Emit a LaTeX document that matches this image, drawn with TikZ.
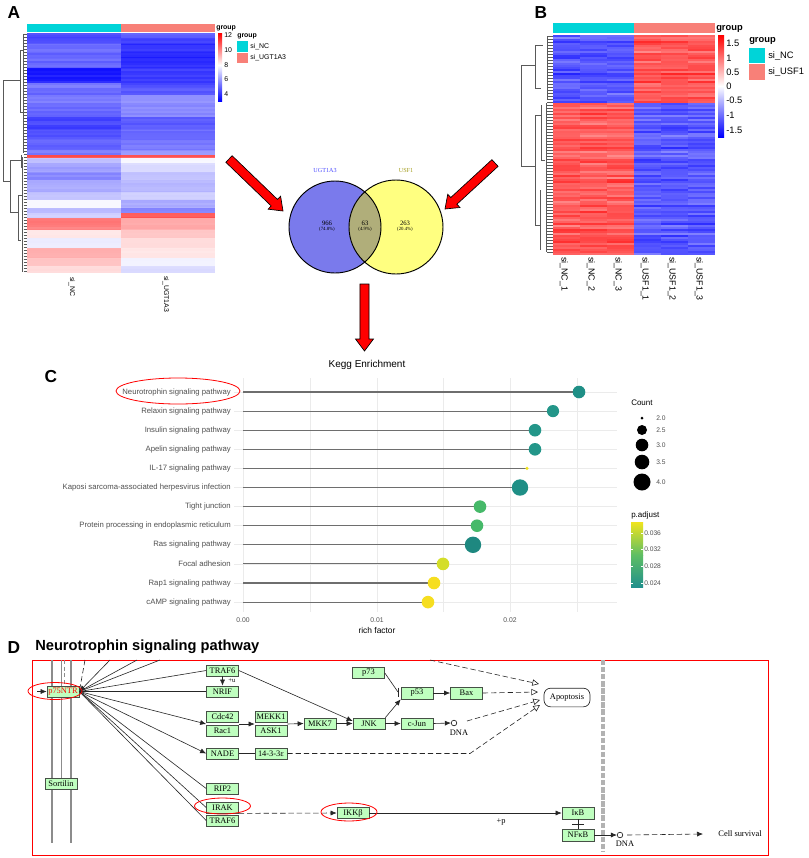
\documentclass[tikz,border=0pt]{standalone}
\usepackage{fontspec}
\setmainfont{Liberation Serif}
\setsansfont{Liberation Sans}
\usetikzlibrary{calc,arrows.meta,shapes.geometric}
\definecolor{hcyan}{RGB}{0,212,216}
\definecolor{hsalmon}{RGB}{248,128,120}
\definecolor{vpurple}{RGB}{122,122,236}
\definecolor{vyellow}{RGB}{255,255,128}
\definecolor{volive}{RGB}{176,174,122}
\definecolor{keggfill}{RGB}{191,255,191}
\definecolor{keggdraw}{RGB}{70,80,70}
\definecolor{dteal}{RGB}{31,143,134}
\definecolor{dteal2}{RGB}{35,150,137}
\definecolor{dteal3}{RGB}{30,136,128}
\definecolor{dyel}{RGB}{240,228,30}
\definecolor{dgreen}{RGB}{70,185,105}
\definecolor{dlime}{RGB}{212,222,40}
\definecolor{dyel2}{RGB}{246,222,32}
\definecolor{vtop}{RGB}{240,228,30}
\definecolor{vmid}{RGB}{94,190,100}
\definecolor{vbot}{RGB}{33,144,140}
\definecolor{labgray}{RGB}{80,80,80}
\newcommand{\myfs}[1]{\fontsize{#1}{#1}\selectfont}
\newcommand{\bigarrow}[2]{%
  \path ($(#2)!9pt!(#1)$) coordinate (hh);
  \draw[fill=red, line width=0.5pt, line join=miter]
    ($(#1)!3.4pt!90:(#2)$) -- ($(hh)!3.4pt!90:(#2)$) -- ($(hh)!6.75pt!90:(#2)$) -- (#2)
    -- ($(hh)!6.75pt!-90:(#2)$) -- ($(hh)!3.4pt!-90:(#2)$) -- ($(#1)!3.4pt!-90:(#2)$) -- cycle;}
\tikzset{
  panlab/.style={font=\sffamily\bfseries\myfs{13}},
  dend/.style={draw=black!65, line width=0.35pt},
  hlab/.style={font=\sffamily\myfs{5.2}},
  blab/.style={font=\sffamily\myfs{7}},
  clab/.style={font=\sffamily\myfs{5.8}, text=labgray, anchor=east, inner sep=0pt},
  grid/.style={draw=black!8, line width=0.5pt},
  stem/.style={draw=black!57, line width=0.8pt},
  kbox/.style={draw=keggdraw, fill=keggfill, line width=0.5pt, minimum width=24pt, minimum height=8.3pt, inner sep=0pt, font=\myfs{6.3}},
  kline/.style={draw=black!85, line width=0.45pt},
  karr/.style={kline, -{Latex[length=4.5pt,width=3.8pt]}},
  kdash/.style={kline, dash pattern=on 4pt off 2.2pt},
  kopen/.style={kdash, -{Triangle[open,length=5pt,width=4.8pt]}},
  redell/.style={draw=red, line width=0.6pt},
  ktext/.style={font=\myfs{6.3}, inner sep=0pt}
}
\begin{document}
\begin{tikzpicture}[x=0.75pt,y=-0.75pt]
\useasboundingbox (0,0) rectangle (809,858);
\fill[white] (0,0) rectangle (809,858);

% ================= Panel A =================
\node[panlab] (labA) at (14,13) {A};
\fill[hcyan] (27,24) rectangle (121,32);
\fill[hsalmon] (121,24) rectangle (215,32);
\foreach \ya/\yb/\ca/\cb in {33/38/blue!75/blue!70, 38/44/blue!72/blue!80, 44/52/blue!62/blue!88,
  52/58/blue!66/blue!92, 58/68/blue!64/blue!85, 68/83/blue!95/blue!80, 83/88/blue!55/blue!75,
  88/95/blue!65/blue!70, 95/103/blue!55/blue!45, 103/117/blue!62/blue!50, 117/130/blue!78/blue!68,
  130/140/blue!72/blue!62, 140/150/blue!68/blue!55, 150/155/blue!55/blue!45, 155/158/red!75/red!70,
  158/163/blue!25/blue!3, 163/172/blue!40/blue!15, 172/180/blue!50/blue!25, 180/192/blue!35/blue!30,
  192/200/blue!25/blue!20, 200/208/blue!3/blue!35, 208/213/blue!30/blue!55, 213/218/blue!20/red!70,
  218/230/red!55/red!35, 230/238/red!10/red!25, 238/248/blue!8/red!15, 248/258/red!35/red!10,
  258/266/red!25/blue!5, 266/273/red!15/blue!15}{
  \fill[\ca] (27,\ya) rectangle (121,\yb);
  \fill[\cb] (121,\ya) rectangle (215,\yb);
}
\pgfmathsetseed{11}
\foreach \y in {33,35,...,271}{
  \pgfmathsetmacro\oa{0.16*rnd}
  \pgfmathsetmacro\ob{0.16*rnd}
  \fill[white,opacity=\oa] (27,\y) rectangle (121,\y+2);
  \fill[white,opacity=\ob] (121,\y) rectangle (215,\y+2);
}
% dendrogram A
\draw[dend] (3,80) -- (3,181) (3,80) -- (20,80) (3,181) -- (10,181)
  (20,50) -- (20,112) (20,50) -- (23,50) (20,112) -- (23,112)
  (10,160) -- (10,212) (10,160) -- (21,160) (10,212) -- (18,212)
  (21,155) -- (21,168) (18,195) -- (18,240) (18,195) -- (22,195) (18,240) -- (21,240);
\foreach \y in {34,37,...,272}{ \draw[dend] (23.5,\y) -- (27,\y); }
\draw[dend] (23.5,34) -- (23.5,153) (22,157) -- (22,272);
% colorbar A
\shade[top color=red, bottom color=white] (218,33) rectangle (222,65);
\shade[top color=white, bottom color=blue] (218,65) rectangle (222,101);
\node[font=\sffamily\bfseries\myfs{5.2}, anchor=west, inner sep=0] (ga) at (216,28.5) {group};
\foreach \v/\yy in {12/35,10/50,8/65,6/79,4/94}{
  \node[hlab, anchor=west, inner sep=0] at (224,\yy) {\v};
}
\node[font=\sffamily\bfseries\myfs{5.2}, anchor=west, inner sep=0] (gb) at (237,36) {group};
\fill[hcyan] (237,41) rectangle (248,52);
\fill[hsalmon] (237,53) rectangle (248,63);
\node[hlab, anchor=west, inner sep=0] at (250,46.5) {si\_NC};
\node[hlab, anchor=west, inner sep=0] at (250,58) {si\_UGT1A3};
\node[hlab, rotate=-90, anchor=west, inner sep=0] at (72,277) {si\_NC};
\node[hlab, rotate=-90, anchor=west, inner sep=0] at (166,276) {si\_UGT1A3};

% ================= Panel B =================
\node[panlab] (labB) at (541,13) {B};
\fill[hcyan] (553,23) rectangle (634,33);
\fill[hsalmon] (634,23) rectangle (715,33);
\pgfmathsetseed{5}
\foreach \r in {0,...,33}{
  \pgfmathsetmacro\base{rnd}
  \foreach \c in {0,...,5}{
    \pgfmathsetmacro\v{int(45+42*(0.55*\base+0.45*rnd))}
    \ifnum\c<3 \def\hc{blue}\else\def\hc{red}\fi
    \fill[\hc!\v] (553+27*\c,35+2*\r) rectangle (580+27*\c,37+2*\r);
  }
}
\foreach \r in {0,...,75}{
  \pgfmathsetmacro\base{rnd}
  \foreach \c in {0,...,5}{
    \pgfmathsetmacro\v{int(45+40*(0.55*\base+0.45*rnd))}
    \ifnum\c<3 \def\hc{red}\else\def\hc{blue}\fi
    \fill[\hc!\v] (553+27*\c,103+2*\r) rectangle (580+27*\c,105+2*\r);
  }
}
% dendrogram B
\draw[dend] (521,65) -- (521,166) (521,65) -- (535,65) (521,166) -- (535,166)
  (535,45) -- (535,88) (535,45) -- (543,45) (535,88) -- (541,88)
  (535,115) -- (535,225) (535,115) -- (541,115) (535,225) -- (540,225)
  (541,105) -- (541,160) (540,190) -- (540,250) (541,160) -- (545,160);
\foreach \y in {36,39,...,252}{ \draw[dend] (547,\y) -- (553,\y); }
\draw[dend] (547,36) -- (547,100) (546,103) -- (546,252);
% colorbar B
\shade[top color=red, bottom color=white] (718,35) rectangle (724,86);
\shade[top color=white, bottom color=blue] (718,86) rectangle (724,137);
\node[font=\sffamily\bfseries\myfs{7}, anchor=west, inner sep=0] (gc) at (716,29) {group};
\foreach \v/\yy in {1.5/43,1/58,0.5/72,0/86,-0.5/100,-1/115,-1.5/130}{
  \node[blab, anchor=west, inner sep=0] at (726,\yy) {\v};
}
\node[font=\sffamily\bfseries\myfs{7}, anchor=west, inner sep=0] (gd) at (749,41) {group};
\fill[hcyan] (749,48) rectangle (765,63);
\fill[hsalmon] (749,64) rectangle (765,80);
\node[blab, anchor=west, inner sep=0] at (768,56) {si\_NC};
\node[blab, anchor=west, inner sep=0] at (768,72) {si\_USF1};
\foreach \x/\t in {564/si\_NC\_1,591/si\_NC\_2,618/si\_NC\_3,645/si\_USF1\_1,672/si\_USF1\_2,699/si\_USF1\_3}{
  \node[font=\sffamily\myfs{6.6}, rotate=-90, anchor=west, inner sep=0] at (\x,257) {\t};
}

% ================= Venn =================
\fill[vpurple] (335,227) circle[radius=46];
\fill[vyellow] (396,227) circle[radius=47];
\begin{scope}
  \clip (335,227) circle[radius=46];
  \fill[volive] (396,227) circle[radius=47];
\end{scope}
\draw[line width=0.7pt] (335,227) circle[radius=46];
\draw[line width=0.7pt] (396,227) circle[radius=47];
\node[font=\myfs{4.6}, text=blue!70!white, inner sep=0] (vl) at (325,170) {UGT1A3};
\node[font=\myfs{4.6}, text=olive!80!white, inner sep=0] (vr) at (406,170) {USF1};
\node[font=\myfs{5}, inner sep=0] (n1) at (327,223) {966};
\node[font=\myfs{3.6}, inner sep=0] (p1) at (327,229.5) {(74.8\%)};
\node[font=\myfs{5}, inner sep=0] (n2) at (365,223) {63};
\node[font=\myfs{3.6}, inner sep=0] (p2) at (365,229.5) {(4.9\%)};
\node[font=\myfs{5}, inner sep=0] (n3) at (405,223) {263};
\node[font=\myfs{3.6}, inner sep=0] (p3) at (405,229.5) {(20.4\%)};

% big red arrows
\coordinate (la1) at (229,159); \coordinate (la2) at (283,211);
\coordinate (ra1) at (495,163); \coordinate (ra2) at (445,209);
\coordinate (da1) at (364.5,284); \coordinate (da2) at (364.5,351);
\bigarrow{la1}{la2}
\bigarrow{ra1}{ra2}
\bigarrow{da1}{da2}

% ================= Panel C =================
\node[font=\sffamily\myfs{7.5}, inner sep=0] (kegg) at (367,365) {Kegg Enrichment};
\node[panlab] (labC) at (51,377) {C};
\foreach \x in {243,310,377,443,510,577}{ \draw[grid] (\x,378) -- (\x,612); }
\foreach \i in {0,...,11}{
  \pgfmathsetmacro\yy{392+19.1*\i}
  \draw[grid] (234,\yy) -- (617,\yy);
}
\foreach \i/\lab/\xe/\rr/\cc in {
 0/Neurotrophin signaling pathway/579/6.3/dteal,
 1/Relaxin signaling pathway/553/6.1/dteal2,
 2/Insulin signaling pathway/535/6.3/dteal2,
 3/Apelin signaling pathway/535/6.3/dteal2,
 4/IL-17 signaling pathway/527/1.7/dyel,
 5/Kaposi sarcoma-associated herpesvirus infection/520/8.2/dteal,
 6/Tight junction/480/6.3/dgreen,
 7/Protein processing in endoplasmic reticulum/477/6.3/dgreen,
 8/Ras signaling pathway/473/8.2/dteal3,
 9/Focal adhesion/443/6.3/dlime,
 10/Rap1 signaling pathway/434/6.3/dyel2,
 11/cAMP signaling pathway/428/6.3/dyel2}{
  \pgfmathsetmacro\yy{392+19.1*\i}
  \draw[stem] (243,\yy) -- (\xe,\yy);
  \fill[\cc] (\xe,\yy) circle[radius=\rr];
  \node[clab] at (231,\yy) {\lab};
}
\draw[redell] (178,391) ellipse[x radius=62, y radius=13];
\foreach \x/\t in {243/0.00,377/0.01,510/0.02}{
  \node[font=\sffamily\myfs{5.1}, text=labgray, inner sep=0] at (\x,620) {\t};
}
\node[font=\sffamily\myfs{6.3}, inner sep=0] (rf) at (377,630) {rich factor};
% legends C
\node[font=\sffamily\myfs{6}, anchor=west, inner sep=0] (cnt) at (631,403) {Count};
\foreach \yy/\rr/\t in {418/1.5/2.0,430/5/2.5,445/6.3/3.0,462/7.3/3.5,482/8.5/4.0}{
  \fill[black] (642,\yy) circle[radius=\rr];
  \node[font=\sffamily\myfs{5}, text=labgray, anchor=west, inner sep=0] at (656,\yy) {\t};
}
\node[font=\sffamily\myfs{6}, anchor=west, inner sep=0] (padj) at (631,515) {p.adjust};
\shade[top color=vtop, bottom color=vmid] (631,522) rectangle (643,555);
\shade[top color=vmid, bottom color=vbot] (631,555) rectangle (643,587);
\foreach \yy/\t in {533/0.036,549/0.032,566/0.028,583/0.024}{
  \draw[white, line width=0.4pt] (631,\yy) -- (633,\yy) (641,\yy) -- (643,\yy);
  \node[font=\sffamily\myfs{5}, text=labgray, anchor=west, inner sep=0] at (644,\yy) {\t};
}

% ================= Panel D =================
\node[panlab] (labD) at (14,648) {D};
\node[font=\sffamily\bfseries\myfs{11}, anchor=west, inner sep=0] (dtitle) at (35,647) {Neurotrophin signaling pathway};
\draw[red, line width=0.75pt] (32,660) rectangle (768,855);
% membranes
\draw[black!45, line width=2pt] (52,660) -- (52,843);
\draw[black!45, line width=2pt] (71,660) -- (71,843);
\draw[black!45, line width=0.6pt] (61,660) -- (61,778);
\draw[black!45, line width=0.6pt, dash pattern=on 3pt off 2pt] (64,660) -- (64,688);
\draw[black!30, line width=2.6pt, dash pattern=on 4pt off 1.3pt] (603,660) -- (603,852);

% nodes
\node[kbox, text=red] (p75) at (63,691.5) {p75NTR};
\node[kbox] (traf6a) at (222.5,670.5) {TRAF6};
\node[kbox] (nrif) at (222.5,691.5) {NRIF};
\node[kbox] (cdc42) at (222.5,717) {Cdc42};
\node[kbox] (rac1) at (222.5,731) {Rac1};
\node[kbox] (mekk1) at (271,717) {MEKK1};
\node[kbox] (ask1) at (271,731) {ASK1};
\node[kbox] (mkk7) at (320,723.5) {MKK7};
\node[kbox] (jnk) at (369,723.5) {JNK};
\node[kbox] (nade) at (222.5,753.5) {NADE};
\node[kbox] (p1433) at (271,753.5) {14-3-3ε};
\node[kbox] (rip2) at (222.5,788.5) {RIP2};
\node[kbox] (irak) at (222.5,807.5) {IRAK};
\node[kbox] (traf6b) at (222.5,820.5) {TRAF6};
\node[kbox] (ikkb) at (353,813) {IKKβ};
\node[kbox] (p73) at (368.5,673) {p73};
\node[kbox, minimum height=9pt] (p53) at (417,693) {p53};
\node[kbox, minimum height=9pt] (bax) at (466.5,693) {Bax};
\node[kbox] (cjun) at (417,723.5) {c-Jun};
\node[kbox] (sortilin) at (61,783.5) {Sortilin};
\node[kbox, minimum height=9pt] (ikb) at (578,813) {IκB};
\node[kbox, minimum height=9pt] (nfkb) at (578,835) {NFκB};
\node[draw=black!85, line width=0.5pt, rounded corners=5pt, fill=white, minimum width=34.5pt, minimum height=14pt, inner sep=0pt, font=\myfs{6.3}] (apop) at (567,697.5) {Apoptosis};
\node[circle, draw=black!85, line width=0.5pt, inner sep=0pt, minimum size=4.2pt] (dna1) at (454,723) {};
\node[circle, draw=black!85, line width=0.5pt, inner sep=0pt, minimum size=4.2pt] (dna2) at (620,835) {};
\node[ktext] (dnat1) at (459,732.5) {DNA};
\node[ktext] (dnat2) at (625,843.5) {DNA};
\node[ktext] (cs) at (740,834) {Cell survival};
\node[ktext] (plusu) at (232,681) {\myfs{5}+u};
\node[ktext] (plusp) at (501,822) {+p};

% coordinates
\coordinate (t1) at (85,660);
\coordinate (t2) at (110,660);
\coordinate (t3) at (137,660);
\coordinate (t4) at (160,660);
\coordinate (ttop) at (430,660);
\coordinate (pin) at (37,691.5);
\coordinate (ap1) at (539,684);
\coordinate (ap2) at (538,692);
\coordinate (ap3) at (540,700);
\coordinate (ap4) at (540,705);
\coordinate (dnas) at (467,721);
\coordinate (bend) at (470,753.5);
\coordinate (csend) at (703,834);
\coordinate (barpt) at (398,692);

% edges
\draw[karr] (pin) -- (p75.west);
\draw[kdash] (t1) -- (p75.east);
\draw[karr] (t2) -- (p75.east);
\draw[kline] (t3) -- (p75.east);
\draw[kline] (t4) -- (p75.east);
\draw[kline] (p75.east) -- (traf6a.west);
\draw[kline] (p75.east) -- (nrif.west);
\draw[karr] (p75.east) -- ($(cdc42.south west)!0.5!(rac1.north west)$);
\draw[karr] (p75.east) -- (nade.west);
\draw[kline] (p75.east) -- (rip2.west);
\draw[kline] (p75.east) -- (irak.west);
\draw[kline] (p75.east) -- (traf6b.west);
\draw[karr] (traf6a.south) -- (nrif.north);
\draw[karr] (traf6a.east) -- ($(jnk.west)+(0,-2.5)$);
\draw[karr] ($(cdc42.south east)!0.5!(rac1.north east)$) -- ($(mekk1.south west)!0.5!(ask1.north west)$);
\draw[karr] ($(mekk1.south east)!0.5!(ask1.north east)$) -- (mkk7.west);
\draw[karr] (mkk7.east) -- (jnk.west);
\draw[karr] (jnk.north east) -- (p53.south west);
\draw[kline] (p73.east) -- (barpt);
\draw[kline] ($(barpt)+(0,-4.5)$) -- ($(barpt)+(0,4.5)$);
\draw[karr] (p53.east) -- (bax.west);
\draw[kopen] (ttop) -- (ap1);
\draw[kopen] (bax.east) -- (ap2);
\draw[kopen] (dnas) -- (ap3);
\draw[kopen] (p1433.east) -- (bend) -- (ap4);
\draw[karr] (jnk.east) -- (cjun.west);
\draw[karr] (cjun.east) -- (dna1.west);
\draw[kline] (nade.east) -- (p1433.west);
\draw[kdash, -{Latex[length=4.5pt,width=3.8pt]}] (irak.south east) -- (ikkb.west);
\draw[karr] (ikkb.east) -- (ikb.west);
\draw[kline] (ikb.south) -- (nfkb.north);
\draw[kline] ($(ikb.south)!0.5!(nfkb.north)+(-6,0)$) -- ($(ikb.south)!0.5!(nfkb.north)+(6,0)$);
\draw[karr] (nfkb.east) -- (dna2.west);
\draw[kdash, -{Latex[length=4.5pt,width=3.8pt]}] ($(dna2.east)+(4,0)$) -- (csend);

% red ellipses
\draw[redell] (55,691) ellipse[x radius=27, y radius=8.5];
\draw[redell] (222.5,806) ellipse[x radius=28, y radius=8];
\draw[redell] (349,812) ellipse[x radius=28, y radius=9];
\end{tikzpicture}
\end{document}
